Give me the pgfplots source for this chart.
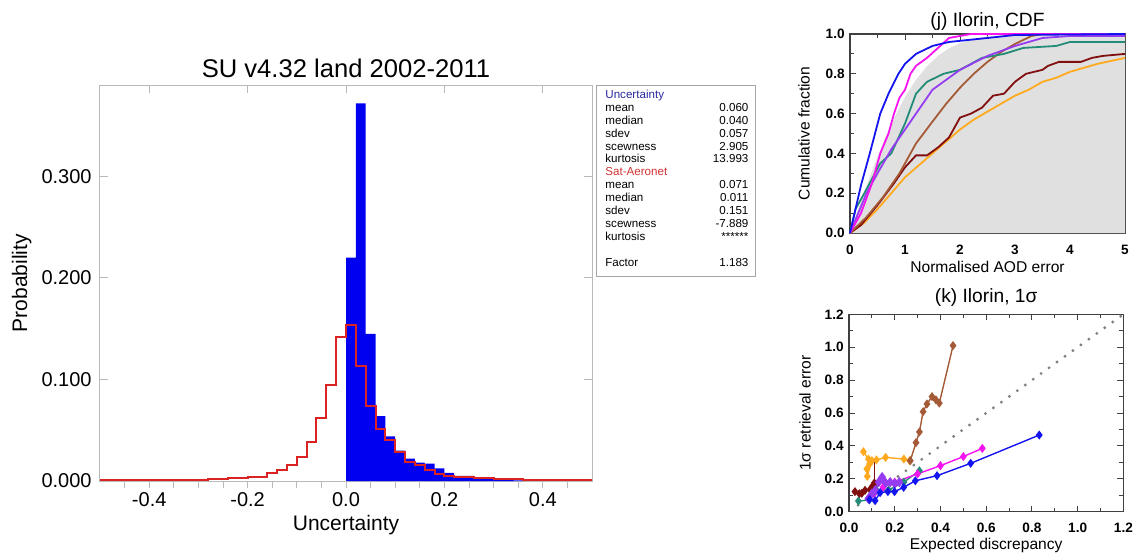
\documentclass[border=0pt]{standalone}
\usepackage{fontspec}
\setmainfont{Liberation Sans}
\usepackage{pgfplots}
\pgfplotsset{compat=1.18}
\pgfplotsset{every axis title shift=0pt}
\definecolor{hBlue}{RGB}{0,0,240}
\definecolor{hRed}{RGB}{220,35,35}
\definecolor{cBlue}{RGB}{20,20,240}
\definecolor{cMag}{RGB}{245,20,240}
\definecolor{cTeal}{RGB}{35,140,120}
\definecolor{cPurp}{RGB}{150,60,240}
\definecolor{cBrown}{RGB}{165,90,55}
\definecolor{cMaroon}{RGB}{130,15,15}
\definecolor{cOrange}{RGB}{255,170,30}
\definecolor{boxBlue}{RGB}{40,40,160}
\definecolor{boxRed}{RGB}{210,50,50}
\begin{document}
\begin{tikzpicture}
\useasboundingbox (0,0) rectangle (570pt,276.5pt);

% ---------------- Histogram ----------------
\begin{axis}[
  at={(50pt,36pt)}, anchor=south west, scale only axis,
  width=246pt, height=198pt,
  xmin=-0.5, xmax=0.5, ymin=0, ymax=0.39,
  axis line style={gray!55, line width=0.5pt},
  tick align=inside,
  xtick={-0.4,-0.2,0,0.2,0.4}, xtick pos=right, xticklabels={},
  ytick={0,0.1,0.2,0.3}, ytick pos=both,
  major tick length=4pt,
  tick style={gray!55, line width=0.5pt},
  /pgf/number format/assume math mode=true,
  scaled y ticks=false,
  yticklabel style={/pgf/number format/.cd, fixed, fixed zerofill, precision=3, /tikz/.cd, anchor=east, inner sep=0pt, xshift=-4pt, font=\fontsize{10}{12}\selectfont},
  ylabel={Probability},
  ylabel style={at={(axis description cs:-0.159,0.5)}, anchor=center, font=\fontsize{10.5}{12}\selectfont},
  title={SU v4.32 land 2002-2011},
  title style={at={(axis description cs:0.5,1.043)}, anchor=center, font=\fontsize{12.8}{15}\selectfont},
]
\addplot[draw=none, fill=hBlue, const plot mark left] coordinates {
(0.00,0.220)(0.02,0.372)(0.04,0.145)(0.06,0.064)(0.08,0.044)(0.10,0.030)
(0.12,0.022)(0.14,0.018)(0.16,0.017)(0.18,0.0125)(0.20,0.008)(0.22,0.005)
(0.24,0.005)(0.26,0.003)(0.28,0.003)(0.30,0.0015)(0.32,0.001)(0.34,0.0005)(0.36,0)
} \closedcycle;
\addplot[hRed, line width=1pt, const plot mark left] coordinates {
(-0.50,0.0012)(-0.48,0.0012)(-0.46,0.0008)(-0.44,0.0008)(-0.42,0.0008)(-0.40,0.0008)
(-0.38,0.0009)(-0.36,0.0010)(-0.34,0.0010)(-0.32,0.0010)(-0.30,0.0012)(-0.28,0.0020)
(-0.26,0.0020)(-0.24,0.0025)(-0.22,0.0030)(-0.20,0.0040)(-0.18,0.0040)(-0.16,0.0076)
(-0.14,0.0110)(-0.12,0.0155)(-0.10,0.0240)(-0.08,0.0380)(-0.06,0.0620)(-0.04,0.0950)
(-0.02,0.1420)(0.00,0.1540)(0.02,0.1130)(0.04,0.0740)(0.06,0.0510)(0.08,0.0400)
(0.10,0.0290)(0.12,0.0190)(0.14,0.0160)(0.16,0.0110)(0.18,0.0070)(0.20,0.0050)
(0.22,0.0040)(0.24,0.0040)(0.26,0.0030)(0.28,0.0030)(0.30,0.0020)(0.32,0.0020)
(0.34,0.0020)(0.36,0.0010)(0.38,0.0010)(0.40,0.0010)(0.42,0.0010)(0.44,0.0008)
(0.46,0.0008)(0.48,0.0008)(0.50,0.0008)
};
\end{axis}
% bottom ticks, labels
\begin{axis}[
  at={(50pt,36pt)}, anchor=south west, scale only axis,
  width=246pt, height=198pt,
  xmin=-0.5, xmax=0.5, ymin=0, ymax=0.39,
  hide y axis, axis x line*=bottom, x axis line style={-, draw=none},
  tick align=outside,
  xtick={-0.4,-0.2,0,0.2,0.4},
  minor xtick={-0.45,-0.35,-0.3,-0.25,-0.15,-0.1,-0.05,0.05,0.1,0.15,0.25,0.3,0.35,0.45},
  major tick length=3.5pt, minor tick length=3.5pt,
  tick style={gray!55, line width=0.5pt},
  /pgf/number format/assume math mode=true,
  xticklabel style={/pgf/number format/.cd, fixed, fixed zerofill, precision=1, /tikz/.cd, anchor=center, yshift=-6pt, font=\fontsize{10}{12}\selectfont},
  xlabel={Uncertainty},
  xlabel style={at={(axis description cs:0.5,-0.111)}, anchor=center, font=\fontsize{10.5}{12}\selectfont},
]
\addplot[draw=none] coordinates {(0,0)};
\end{axis}

% stats box
\draw[gray!70, line width=0.5pt] (298pt,138.5pt) rectangle (377.5pt,234pt);
\node[anchor=north west, inner sep=0pt] at (302.5pt,232pt) {\fontsize{5.8}{6.45}\selectfont
\begin{tabular*}{71.5pt}{@{}l@{\extracolsep{\fill}}r@{}}
\textcolor{boxBlue}{Uncertainty} & \\
mean & 0.060\\
median & 0.040\\
sdev & 0.057\\
scewness & 2.905\\
kurtosis & 13.993\\
\textcolor{boxRed}{Sat-Aeronet} & \\
mean & 0.071\\
median & 0.011\\
sdev & 0.151\\
scewness & -7.889\\
kurtosis & ******\\
 & \\
Factor & 1.183
\end{tabular*}};

% ---------------- CDF ----------------
\begin{axis}[
  at={(425pt,160pt)}, anchor=south west, scale only axis,
  width=137.5pt, height=99.5pt,
  xmin=0, xmax=5, ymin=0, ymax=1,
  clip=false,
  axis line style={black!75, line width=0.6pt},
  tick align=inside,
  xtick={0,1,2,3,4,5}, minor xtick={0.5,1.5,2.5,3.5,4.5},
  ytick={0,0.2,0.4,0.6,0.8,1}, minor ytick={0.1,0.3,0.5,0.7,0.9},
  major tick length=3pt, minor tick length=2pt,
  tick style={black!75, line width=0.5pt},
  /pgf/number format/assume math mode=true,
  xticklabel style={anchor=center, yshift=-8.5pt, font=\fontsize{6.8}{8}\selectfont\bfseries},
  yticklabel style={/pgf/number format/.cd, fixed, fixed zerofill, precision=1, /tikz/.cd, anchor=east, inner sep=0pt, xshift=-2.5pt, font=\fontsize{6.8}{8}\selectfont\bfseries},
  xlabel={Normalised AOD error},
  xlabel style={at={(axis description cs:0.5,-0.171)}, anchor=center, font=\fontsize{7.8}{9}\selectfont},
  ylabel={Cumulative fraction},
  ylabel style={at={(axis description cs:-0.167,0.5)}, anchor=center, font=\fontsize{7.8}{9}\selectfont},
  title={(j) Ilorin, CDF},
  title style={at={(axis description cs:0.5,1.065)}, anchor=center, font=\fontsize{9.6}{11}\selectfont},
]
\addplot[draw=none, fill=black!12] coordinates {
(0,0)(0.1,0.080)(0.2,0.159)(0.3,0.236)(0.4,0.311)(0.5,0.383)(0.6,0.451)(0.7,0.516)
(0.8,0.576)(0.9,0.632)(1.0,0.683)(1.2,0.770)(1.4,0.838)(1.6,0.890)(1.8,0.928)
(2.0,0.954)(2.25,0.976)(2.5,0.988)(3.0,0.997)(3.5,1.0)(5,1.0)
} \closedcycle;
\addplot[cOrange, line width=0.9pt] coordinates {
(0,0)(0.25,0.05)(0.5,0.12)(0.75,0.2)(1.0,0.28)(1.25,0.34)(1.5,0.40)(1.75,0.46)(2.0,0.52)(2.25,0.57)(2.5,0.61)
(2.75,0.65)(3.0,0.69)(3.25,0.72)(3.5,0.76)(3.75,0.78)(4.0,0.81)(4.5,0.85)(5,0.88)};
\addplot[cMaroon, line width=0.9pt] coordinates {
(0,0)(0.2,0.04)(0.5,0.14)(0.8,0.25)(1.0,0.33)(1.2,0.39)(1.4,0.39)(1.6,0.43)(1.8,0.48)
(2.0,0.58)(2.2,0.60)(2.4,0.63)(2.6,0.69)(2.8,0.70)(3.0,0.76)(3.2,0.80)(3.5,0.82)
(3.6,0.84)(3.8,0.86)(4.2,0.86)(4.4,0.88)(4.6,0.89)(5,0.90)};
\addplot[cBrown, line width=0.9pt] coordinates {
(0,0)(0.3,0.08)(0.6,0.18)(0.9,0.30)(1.2,0.45)(1.5,0.56)(1.75,0.65)(2.0,0.73)(2.25,0.80)(2.5,0.86)
(2.75,0.91)(3.0,0.95)(3.3,0.99)(3.5,1.0)(5,1.0)};
\addplot[cTeal, line width=0.9pt] coordinates {
(0,0)(0.1,0.12)(0.3,0.22)(0.55,0.35)(0.75,0.40)(1.0,0.55)(1.2,0.70)(1.4,0.76)(1.7,0.80)
(2.0,0.82)(2.4,0.88)(2.8,0.90)(3.15,0.93)(3.75,0.94)(4.0,0.96)(5,0.96)};
\addplot[cPurp, line width=0.9pt] coordinates {
(0,0)(0.3,0.2)(0.5,0.3)(0.75,0.42)(1.0,0.52)(1.2,0.6)(1.5,0.72)(2.0,0.82)(2.5,0.89)
(3.0,0.94)(3.5,0.98)(4.0,0.99)(5,0.99)};
\addplot[cMag, line width=0.9pt] coordinates {
(0,0)(0.2,0.1)(0.4,0.25)(0.55,0.4)(0.7,0.5)(0.8,0.6)(0.9,0.68)(1.0,0.72)(1.1,0.8)
(1.2,0.84)(1.4,0.88)(1.6,0.93)(1.8,0.98)(2.0,0.99)(2.2,1.0)(5,1.0)};
\addplot[cBlue, line width=0.9pt] coordinates {
(0,0)(0.1,0.12)(0.2,0.24)(0.36,0.4)(0.55,0.6)(0.7,0.7)(0.88,0.8)(1.0,0.85)(1.2,0.9)
(1.5,0.94)(1.8,0.96)(2.5,0.98)(3,0.995)(5,1.0)};
\end{axis}

% ---------------- 1 sigma ----------------
\begin{axis}[
  at={(424.5pt,20.65pt)}, anchor=south west, scale only axis,
  width=137.2pt, height=98.7pt,
  xmin=0, xmax=1.2, ymin=0, ymax=1.2,
  clip=false,
  axis line style={black!75, line width=0.6pt},
  tick align=inside,
  xtick={0,0.2,0.4,0.6,0.8,1.0,1.2}, minor xtick={0.1,0.3,0.5,0.7,0.9,1.1},
  ytick={0,0.2,0.4,0.6,0.8,1.0,1.2}, minor ytick={0.1,0.3,0.5,0.7,0.9,1.1},
  major tick length=3pt, minor tick length=2pt,
  tick style={black!75, line width=0.5pt},
  /pgf/number format/assume math mode=true,
  xticklabel style={/pgf/number format/.cd, fixed, fixed zerofill, precision=1, /tikz/.cd, anchor=center, yshift=-8.2pt, font=\fontsize{6.8}{8}\selectfont\bfseries},
  yticklabel style={/pgf/number format/.cd, fixed, fixed zerofill, precision=1, /tikz/.cd, anchor=east, inner sep=0pt, xshift=-2.5pt, font=\fontsize{6.8}{8}\selectfont\bfseries},
  xlabel={Expected discrepancy},
  xlabel style={at={(axis description cs:0.5,-0.169)}, anchor=center, font=\fontsize{7.8}{9}\selectfont},
  ylabel={1σ retrieval error},
  ylabel style={at={(axis description cs:-0.16,0.5)}, anchor=center, font=\fontsize{7.8}{9}\selectfont},
  title={(k) Ilorin, 1σ},
  title style={at={(axis description cs:0.5,1.083)}, anchor=center, font=\fontsize{9.6}{11}\selectfont},
  every axis plot/.append style={line width=0.7pt, mark=diamond*, mark size=1.7pt},
]
\addplot[gray, line width=1.6pt, mark=none, line cap=round, dash pattern=on 0pt off 4.9pt] coordinates {(0.04,0.04)(1.2,1.2)};
\addplot[cOrange, mark options={fill=cOrange}] coordinates {
(0.063,0.365)(0.085,0.32)(0.09,0.29)(0.078,0.26)(0.08,0.215)(0.10,0.31)(0.12,0.315)
(0.16,0.33)(0.24,0.32)(0.265,0.31)};
\addplot[cBrown, mark options={fill=cBrown}] coordinates {
(0.268,0.31)(0.293,0.42)(0.308,0.485)(0.324,0.608)(0.341,0.655)(0.363,0.70)(0.38,0.68)
(0.395,0.66)(0.455,1.01)};
\addplot[cMaroon, mark options={fill=cMaroon}] coordinates {
(0.026,0.122)(0.045,0.11)(0.056,0.112)(0.07,0.13)(0.092,0.135)(0.105,0.16)(0.111,0.175)};
\addplot[cMaroon, mark=none] coordinates {(0.111,0.175)(0.111,0.30)};
\addplot[cTeal, mark options={fill=cTeal}] coordinates {
(0.041,0.065)(0.088,0.071)(0.122,0.128)(0.173,0.132)(0.24,0.18)(0.308,0.249)};
\addplot[cMag, mark options={fill=cMag}] coordinates {
(0.085,0.08)(0.11,0.11)(0.15,0.15)(0.2,0.18)(0.3,0.23)(0.4,0.28)(0.5,0.335)(0.583,0.385)};
\addplot[cPurp, line width=1.1pt, mark options={fill=cPurp}] coordinates {
(0.085,0.08)(0.1,0.11)(0.115,0.13)(0.13,0.18)(0.145,0.21)(0.16,0.175)(0.18,0.18)(0.2,0.17)(0.22,0.18)};
\addplot[cBlue, mark options={fill=cBlue}] coordinates {
(0.09,0.075)(0.114,0.067)(0.136,0.116)(0.17,0.122)(0.199,0.122)(0.239,0.148)(0.29,0.188)
(0.385,0.219)(0.532,0.294)(0.832,0.466)};
\end{axis}
\end{tikzpicture}
\end{document}
